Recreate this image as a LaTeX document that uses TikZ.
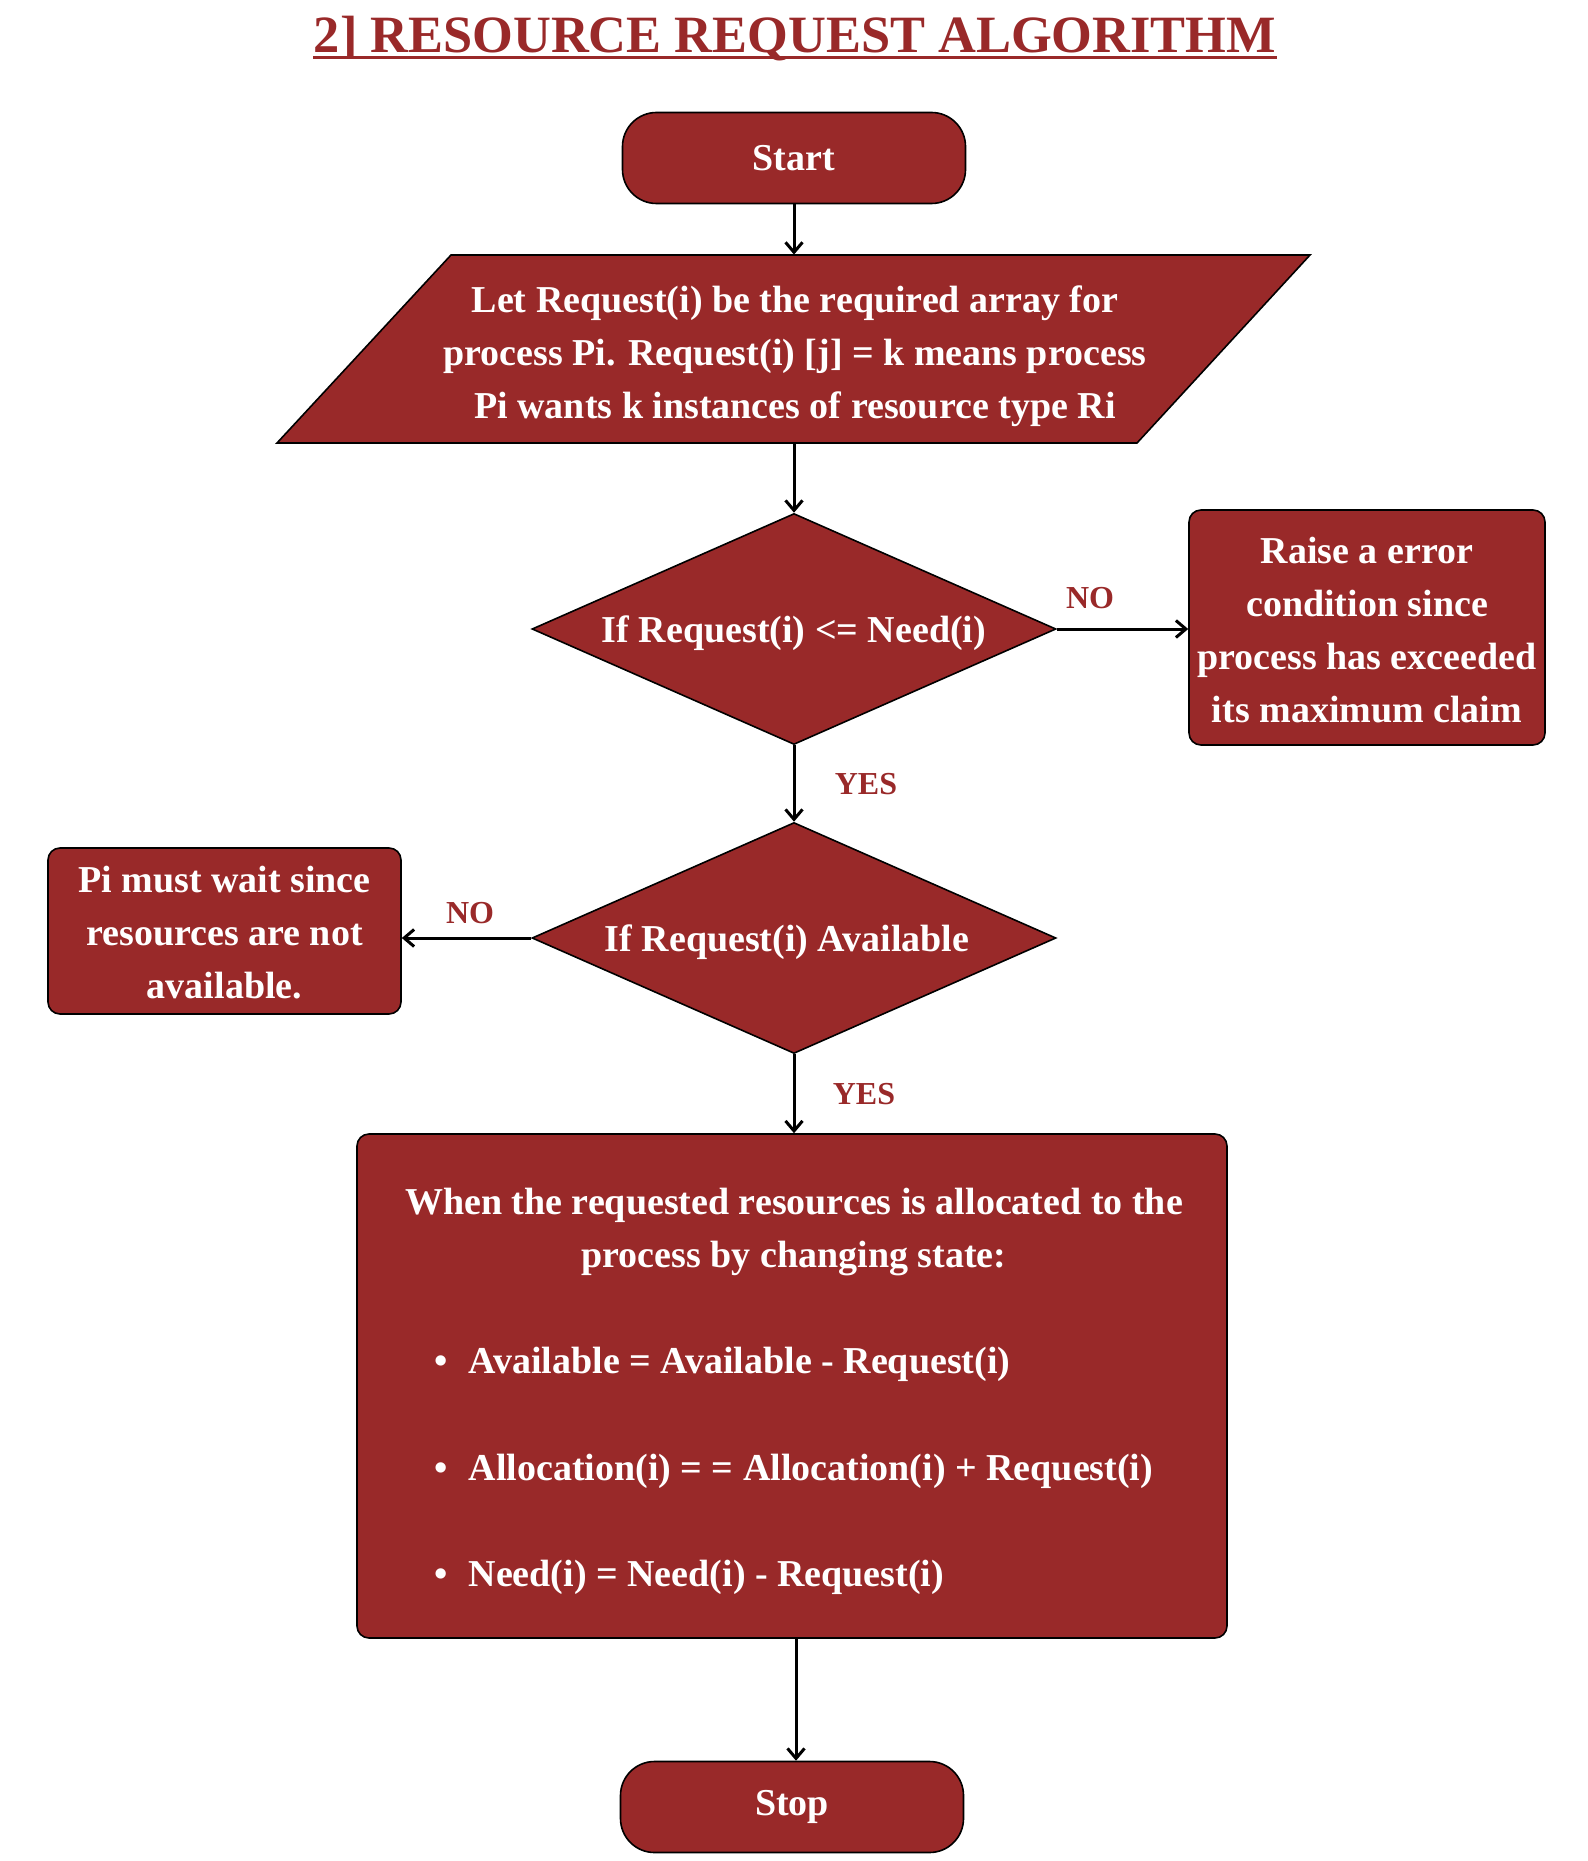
\documentclass[tikz,border=0pt]{standalone}
\usepackage{fontspec}
\setmainfont{Liberation Serif}
\usetikzlibrary{shapes.geometric,arrows.meta}
\definecolor{dred}{RGB}{153,41,41}
\begin{document}
\begin{tikzpicture}[x=0.5pt,y=-0.5pt,
  txt/.style={font=\fontsize{19pt}{26.5pt}\selectfont\bfseries, text=white, align=center},
  shp/.style={draw=black, line width=0.8pt, fill=dred},
  term/.style={shp, txt, rounded corners=17pt, minimum width=171.5pt, minimum height=45.5pt, inner sep=0pt},
  rbox/.style={shp, rounded corners=6pt, inner sep=0pt},
  dec/.style={shp, txt, diamond, aspect=2.27, inner sep=0pt, text depth=0pt, minimum width=262pt, minimum height=115.5pt},
  lbl/.style={font=\fontsize{16pt}{19pt}\selectfont\bfseries, text=dred, inner sep=0pt},
  arr/.style={line width=1.5pt, -{Straight Barb[length=5pt,width=8.5pt]}},
]
\useasboundingbox (0,0) rectangle (1587,1861);

% title
\node[anchor=base, inner sep=0pt, font=\fontsize{26.2pt}{30pt}\selectfont\bfseries, text=dred] (T) at (795,53) {2] RESOURCE REQUEST ALGORITHM};
\draw[dred, line width=1.5pt] ([yshift=-2.5pt]T.base west) -- ([yshift=-2.5pt]T.base east);

% start
\node[term] (S) at (794,158) {Start};

% parallelogram
\draw[shp] (451,255) -- (1310,255) -- (1137,443) -- (277,443) -- cycle;
\node[inner sep=0pt, minimum width=300pt, minimum height=94pt] (P) at (794,349) {};
\node[txt, inner sep=0pt] (Pt) at (795,356) {Let Request(i) be the required array for\\process Pi. Request(i) [j] = k means process\\ Pi wants k instances of resource type Ri};

% decisions
\node[dec] (D1) at (794,629) {If Request(i) <= Need(i)};
\node[dec] (D2) at (794,938) {If Request(i) Available\hspace*{7pt}};

% side boxes
\node[rbox, minimum width=178pt, minimum height=117.5pt] (B1) at (1367,627.5) {};
\node[txt, inner sep=0pt] (B1t) at (1367,630) {Raise a error\\condition since\\process has exceeded\\its maximum claim};
\node[rbox, minimum width=176.5pt, minimum height=83pt] (B2) at (224.5,931) {};
\node[txt, inner sep=0pt] (B2t) at (224.5,933) {Pi must wait since\\resources are not\\available.};

% big box
\node[rbox, minimum width=435pt, minimum height=252pt] (C) at (792,1386) {};
\node[txt, inner sep=0pt] (Ch) at (794,1231.5) {When the requested resources is allocated to the\\process by changing state:};
\node[txt, anchor=west, inner sep=0pt] (C1) at (434,1364) {•\hspace{10.5pt}Available = Available - Request(i)};
\node[txt, anchor=west, inner sep=0pt] (C2) at (434,1471) {•\hspace{10.5pt}Allocation(i) = = Allocation(i) + Request(i)};
\node[txt, anchor=west, inner sep=0pt] (C3) at (434,1577) {•\hspace{10.5pt}Need(i) = Need(i) - Request(i)};

% stop
\node[term] (E) at (792,1807) {Stop};

% labels
\node[lbl] (n1) at (1090,598) {NO};
\node[lbl] (y1) at (866,784) {YES};
\node[lbl] (n2) at (470,913) {NO};
\node[lbl] (y2) at (864,1094) {YES};

% connectors
\draw[arr] (S.south) -- (S.south |- P.north);
\draw[arr] (P.south) -- (D1.north);
\draw[arr] (D1.east) -- (D1.east -| B1.west);
\draw[arr] (D1.south) -- (D2.north);
\draw[arr] (D2.west) -- (D2.west -| B2.east);
\draw[arr] (D2.south) -- (D2.south |- C.north);
\draw[arr] ([xshift=2pt]C.south) -- ([xshift=2pt]C.south |- E.north);
\end{tikzpicture}
\end{document}
